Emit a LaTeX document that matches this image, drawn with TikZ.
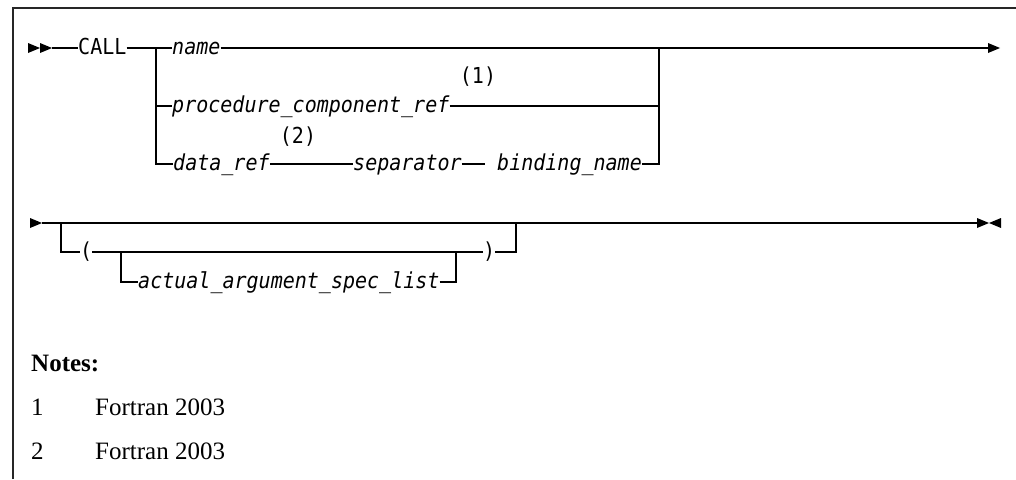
\documentclass[tikz,border=0pt]{standalone}
\usepackage{fontspec}
\setmainfont{Liberation Serif}
\setmonofont[FakeStretch=0.91]{DejaVu Sans Mono}
\begin{document}
\begin{tikzpicture}[x=1pt,y=-1pt,
  rail/.style={line width=1.2pt},
  frameline/.style={line width=1.6pt, black!85},
  tip/.style={fill=black},
  mono/.style={font=\ttfamily\fontsize{22}{26}\selectfont, inner sep=0pt, anchor=base west},
  var/.style={font=\ttfamily\itshape\fontsize{22}{26}\selectfont, inner sep=0pt, anchor=base west},
  note/.style={font=\fontsize{25}{30}\selectfont, inner sep=0pt, anchor=base west},
  ]
\useasboundingbox (0,0) rectangle (1016,479);
% frame
\draw[frameline] (13,479) -- (13,8) -- (1016,8);

% ---------- row 1 ----------
\fill[tip] (28,43) -- (40,48) -- (28,53) -- cycle;
\fill[tip] (40,43) -- (52,48) -- (40,53) -- cycle;
\coordinate (r1) at (52,48);
\coordinate (j1) at (156,48);
\coordinate (j1b) at (156,164);
\coordinate (j2) at (659,48);
\coordinate (j2b) at (659,164);
\coordinate (y2) at (0,106);
\coordinate (e1) at (988,48);
\coordinate (sepend) at (485,164);

\node[mono] (call) at (78,54.5) {CALL};
\node[var] (name) at (172,54.5) {name};
\node[var] (pcr) at (172,112.5) {procedure\_component\_ref};
\node[var] (dref) at (173,170.5) {data\_ref};
\node[var] (sep) at (353,170.5) {separator};
\node[var] (bind) at (497,170.5) {binding\_name};
\node[mono, anchor=center] (n1) at (478,77) {(1)};
\node[mono, anchor=center] (n2) at (298,137) {(2)};

\draw[rail] (r1) -- (call.west |- r1);
\draw[rail] (call.east |- r1) -- (name.west |- r1);
\draw[rail] (name.east |- r1) -- (e1);
\fill[tip] (e1) ++(0,-5) -- (1000,48) -- (988,53) -- cycle;
\draw[rail] (j1) -- (j1b) -- (dref.west |- j1b);
\draw[rail] (j1 |- y2) -- (pcr.west |- y2);
\draw[rail] (pcr.east |- y2) -- (j2 |- y2);
\draw[rail] (j2) -- (j2b) -- (bind.east |- j2b);
\draw[rail] (dref.east |- j2b) -- (sep.west |- j2b);
\draw[rail] (sep.east |- j2b) -- (sepend);

% ---------- row 2 ----------
\fill[tip] (30,218) -- (42,223) -- (30,228) -- cycle;
\coordinate (r4) at (42,223);
\coordinate (e4) at (977,223);
\coordinate (k1) at (61,223);
\coordinate (k1b) at (61,252);
\coordinate (k2) at (121,252);
\coordinate (k2b) at (121,282);
\coordinate (k3) at (456,252);
\coordinate (k3b) at (456,282);
\coordinate (k4) at (516,252);
\coordinate (k4t) at (516,223);

\node[mono] (lp) at (80,258.5) {(};
\node[var] (aasl) at (138,288.5) {actual\_argument\_spec\_list};
\node[mono] (rp) at (483,258.5) {)};

\draw[rail] (r4) -- (e4);
\fill[tip] (977,218) -- (989,223) -- (977,228) -- cycle;
\fill[tip] (1001,218) -- (989,223) -- (1001,228) -- cycle;
\draw[rail] (k1) -- (k1b) -- (lp.west |- k1b);
\draw[rail] (lp.east |- k1b) -- (rp.west |- k1b);
\draw[rail] (k2) -- (k2b) -- (aasl.west |- k2b);
\draw[rail] (aasl.east |- k2b) -- (k3b) -- (k3);
\draw[rail] (rp.east |- k1b) -- (k4) -- (k4t);

% ---------- notes ----------
\node[note, font=\bfseries\fontsize{25}{30}\selectfont] (notes) at (31,371) {Notes:};
\node[note] (no1) at (31,415) {1};
\node[note] (ft1) at (95,415) {Fortran 2003};
\node[note] (no2) at (31,459) {2};
\node[note] (ft2) at (95,459) {Fortran 2003};
\end{tikzpicture}
\end{document}
